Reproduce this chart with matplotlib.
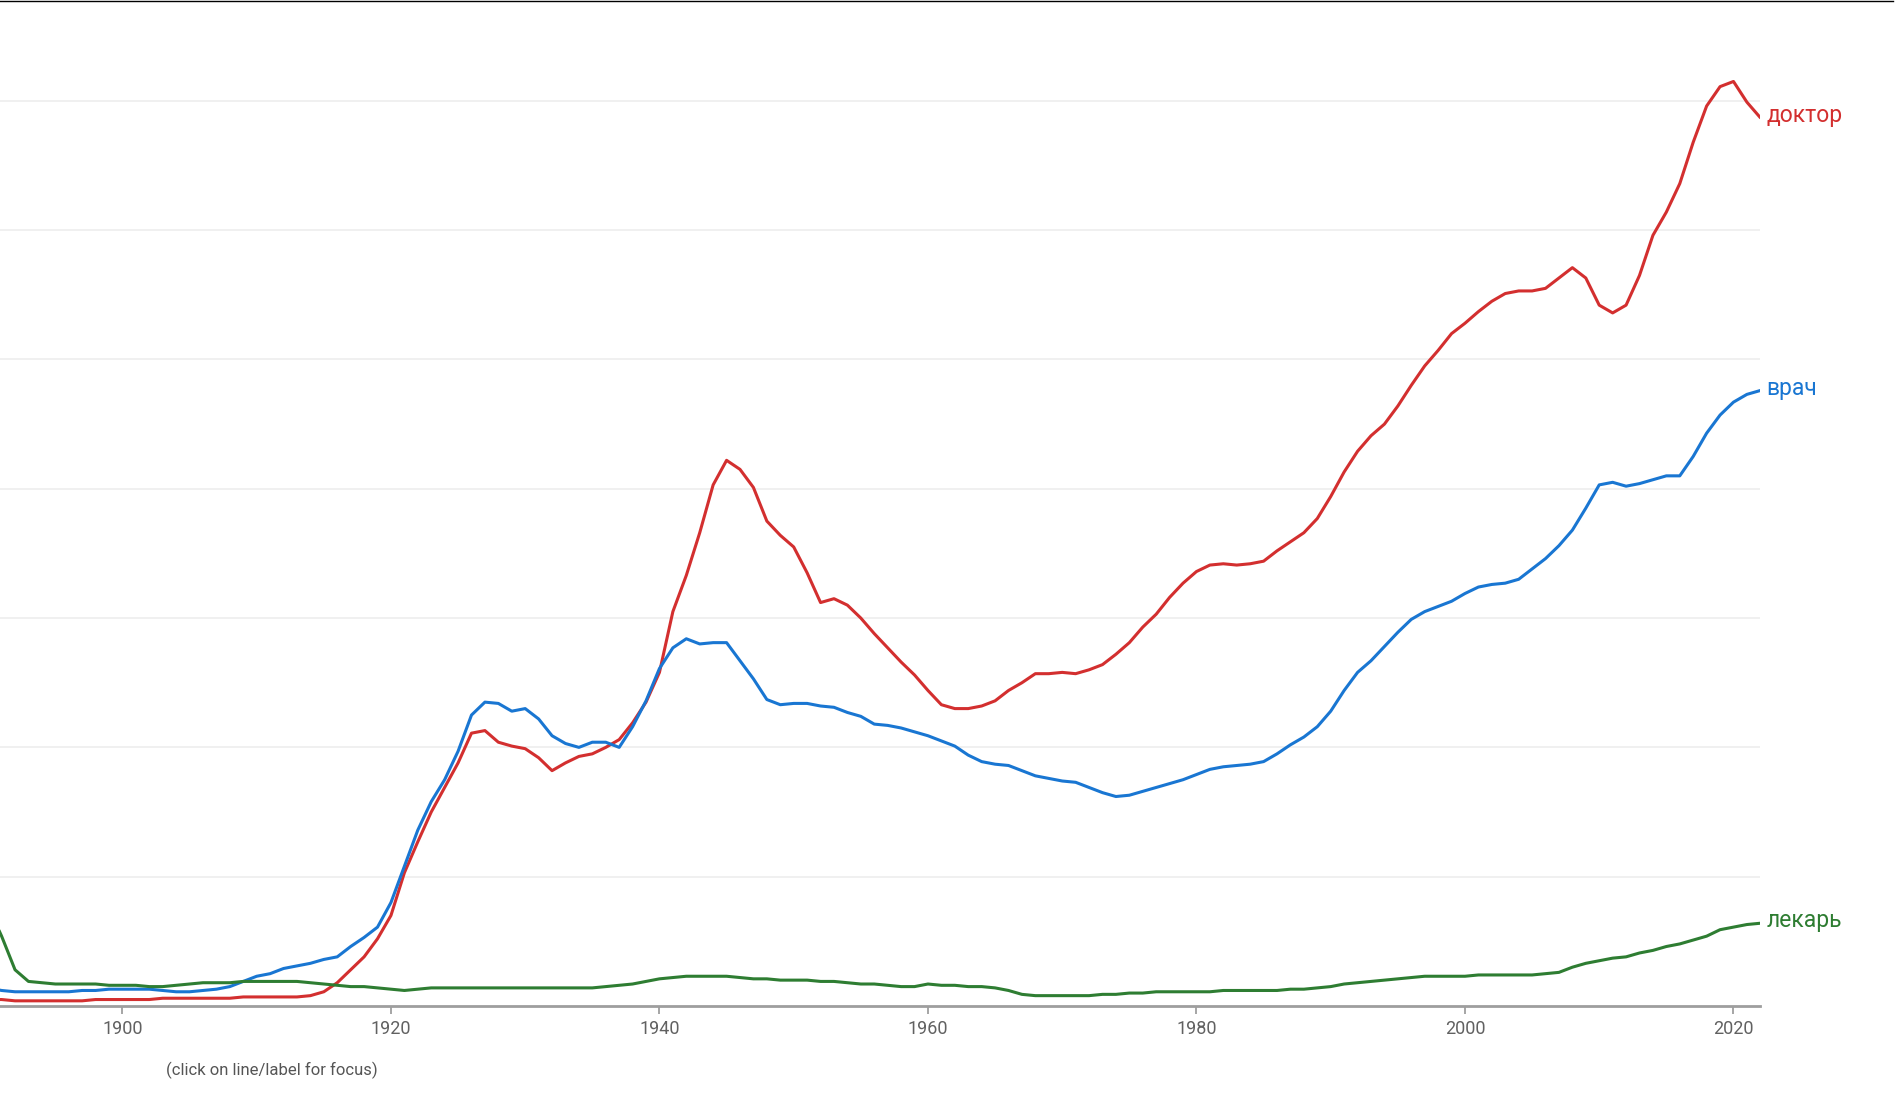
import numpy as np
import matplotlib
matplotlib.use('Agg')
import matplotlib.pyplot as plt
from matplotlib.lines import Line2D

plt.rcParams['font.family'] = ['Roboto', 'DejaVu Sans']

years = np.arange(1890, 2023)

# relative frequency, in gridline units
doktor = [0.05, 0.05, 0.04, 0.04, 0.04, 0.04, 0.04, 0.04, 0.05, 0.05,
          0.05, 0.05, 0.05, 0.06, 0.06, 0.06, 0.06, 0.06, 0.06, 0.07,
          0.07, 0.07, 0.07, 0.07, 0.08, 0.11, 0.18, 0.28, 0.38, 0.52,
          0.70, 1.03, 1.27, 1.50, 1.69, 1.88, 2.11, 2.13, 2.04, 2.01,
          1.99, 1.92, 1.82, 1.88, 1.93, 1.95, 2.00, 2.06, 2.19, 2.35,
          2.58, 3.05, 3.33, 3.66, 4.03, 4.22, 4.15, 4.01, 3.75, 3.64,
          3.55, 3.35, 3.12, 3.15, 3.10, 3.00, 2.88, 2.77, 2.66, 2.56,
          2.44, 2.33, 2.30, 2.30, 2.32, 2.36, 2.44, 2.50, 2.57, 2.57,
          2.58, 2.57, 2.60, 2.64, 2.72, 2.81, 2.93, 3.03, 3.16, 3.27,
          3.36, 3.41, 3.42, 3.41, 3.42, 3.44, 3.52, 3.59, 3.66, 3.77,
          3.94, 4.13, 4.29, 4.41, 4.50, 4.64, 4.80, 4.95, 5.07, 5.20,
          5.28, 5.37, 5.45, 5.51, 5.53, 5.53, 5.55, 5.63, 5.71, 5.63,
          5.42, 5.36, 5.42, 5.65, 5.96, 6.14, 6.36, 6.68, 6.96, 7.11,
          7.15, 6.99, 6.87]

vrach = [0.14, 0.12, 0.11, 0.11, 0.11, 0.11, 0.11, 0.12, 0.12, 0.13,
         0.13, 0.13, 0.13, 0.12, 0.11, 0.11, 0.12, 0.13, 0.15, 0.19,
         0.23, 0.25, 0.29, 0.31, 0.33, 0.36, 0.38, 0.46, 0.53, 0.61,
         0.80, 1.08, 1.36, 1.58, 1.75, 1.97, 2.25, 2.35, 2.34, 2.28,
         2.30, 2.22, 2.09, 2.03, 2.00, 2.04, 2.04, 2.00, 2.16, 2.36,
         2.61, 2.77, 2.84, 2.80, 2.81, 2.81, 2.67, 2.53, 2.37, 2.33,
         2.34, 2.34, 2.32, 2.31, 2.27, 2.24, 2.18, 2.17, 2.15, 2.12,
         2.09, 2.05, 2.01, 1.94, 1.89, 1.87, 1.86, 1.82, 1.78, 1.76,
         1.74, 1.73, 1.69, 1.65, 1.62, 1.63, 1.66, 1.69, 1.72, 1.75,
         1.79, 1.83, 1.85, 1.86, 1.87, 1.89, 1.95, 2.02, 2.08, 2.16,
         2.28, 2.44, 2.58, 2.67, 2.78, 2.89, 2.99, 3.05, 3.09, 3.13,
         3.19, 3.24, 3.26, 3.27, 3.30, 3.38, 3.46, 3.56, 3.68, 3.85,
         4.03, 4.05, 4.02, 4.04, 4.07, 4.10, 4.10, 4.25, 4.43, 4.57,
         4.67, 4.73, 4.76]

lekar = [0.77, 0.54, 0.28, 0.19, 0.18, 0.17, 0.17, 0.17, 0.17, 0.16,
         0.16, 0.16, 0.15, 0.15, 0.16, 0.17, 0.18, 0.18, 0.18, 0.19,
         0.19, 0.19, 0.19, 0.19, 0.18, 0.17, 0.16, 0.15, 0.15, 0.14,
         0.13, 0.12, 0.13, 0.14, 0.14, 0.14, 0.14, 0.14, 0.14, 0.14,
         0.14, 0.14, 0.14, 0.14, 0.14, 0.14, 0.15, 0.16, 0.17, 0.19,
         0.21, 0.22, 0.23, 0.23, 0.23, 0.23, 0.22, 0.21, 0.21, 0.20,
         0.20, 0.20, 0.19, 0.19, 0.18, 0.17, 0.17, 0.16, 0.15, 0.15,
         0.17, 0.16, 0.16, 0.15, 0.15, 0.14, 0.12, 0.09, 0.08, 0.08,
         0.08, 0.08, 0.08, 0.09, 0.09, 0.10, 0.10, 0.11, 0.11, 0.11,
         0.11, 0.11, 0.12, 0.12, 0.12, 0.12, 0.12, 0.13, 0.13, 0.14,
         0.15, 0.17, 0.18, 0.19, 0.20, 0.21, 0.22, 0.23, 0.23, 0.23,
         0.23, 0.24, 0.24, 0.24, 0.24, 0.24, 0.25, 0.26, 0.30, 0.33,
         0.35, 0.37, 0.38, 0.41, 0.43, 0.46, 0.48, 0.51, 0.54, 0.59,
         0.61, 0.63, 0.64]

names = ['доктор', 'врач', 'лекарь']
colors = ['#d32f2f', '#1976d2', '#2e7d32']
tick_years = [1900, 1920, 1940, 1960, 1980, 2000, 2020]

fig = plt.figure(figsize=(19.01, 11.05), dpi=100)
ax = fig.add_axes([0, 0.0896, 0.926, 0.9104])

for name, vals, c in zip(names, [doktor, vrach, lekar], colors):
    ax.plot(years, vals, color=c, lw=2.2, zorder=3, solid_capstyle='round')
    ax.annotate(name, xy=(years[-1], vals[-1]), xytext=(4.5, -3),
                textcoords='offset points', va='baseline', ha='left',
                color=c, fontsize=16.5, annotation_clip=False)

ax.set_xlim(1890.88, 2022.0)
ax.set_ylim(0, 7.78)
ax.set_yticks(range(1, 8))
ax.grid(axis='y', color='#eeeeee', lw=1.2, zorder=0)
ax.tick_params(axis='y', length=0, labelleft=False)
ax.set_xticks(tick_years)
ax.tick_params(axis='x', direction='out', length=6, width=1.3, color='#9e9e9e',
               labelsize=13, labelcolor='#616161', pad=4)
for s in ['top', 'right', 'left']:
    ax.spines[s].set_visible(False)
ax.spines['bottom'].set_color('#9e9e9e')
ax.spines['bottom'].set_linewidth(2)
ax.spines['bottom'].set_zorder(4)

fig.text(166 / 1901, 1 - 1070 / 1105, '(click on line/label for focus)',
         ha='left', va='center', fontsize=12, color='#555555')

fig.add_artist(Line2D([0, 0.996], [0.9995, 0.9995], color='black', lw=1))

fig.savefig('out.png', dpi=100, facecolor='white')
